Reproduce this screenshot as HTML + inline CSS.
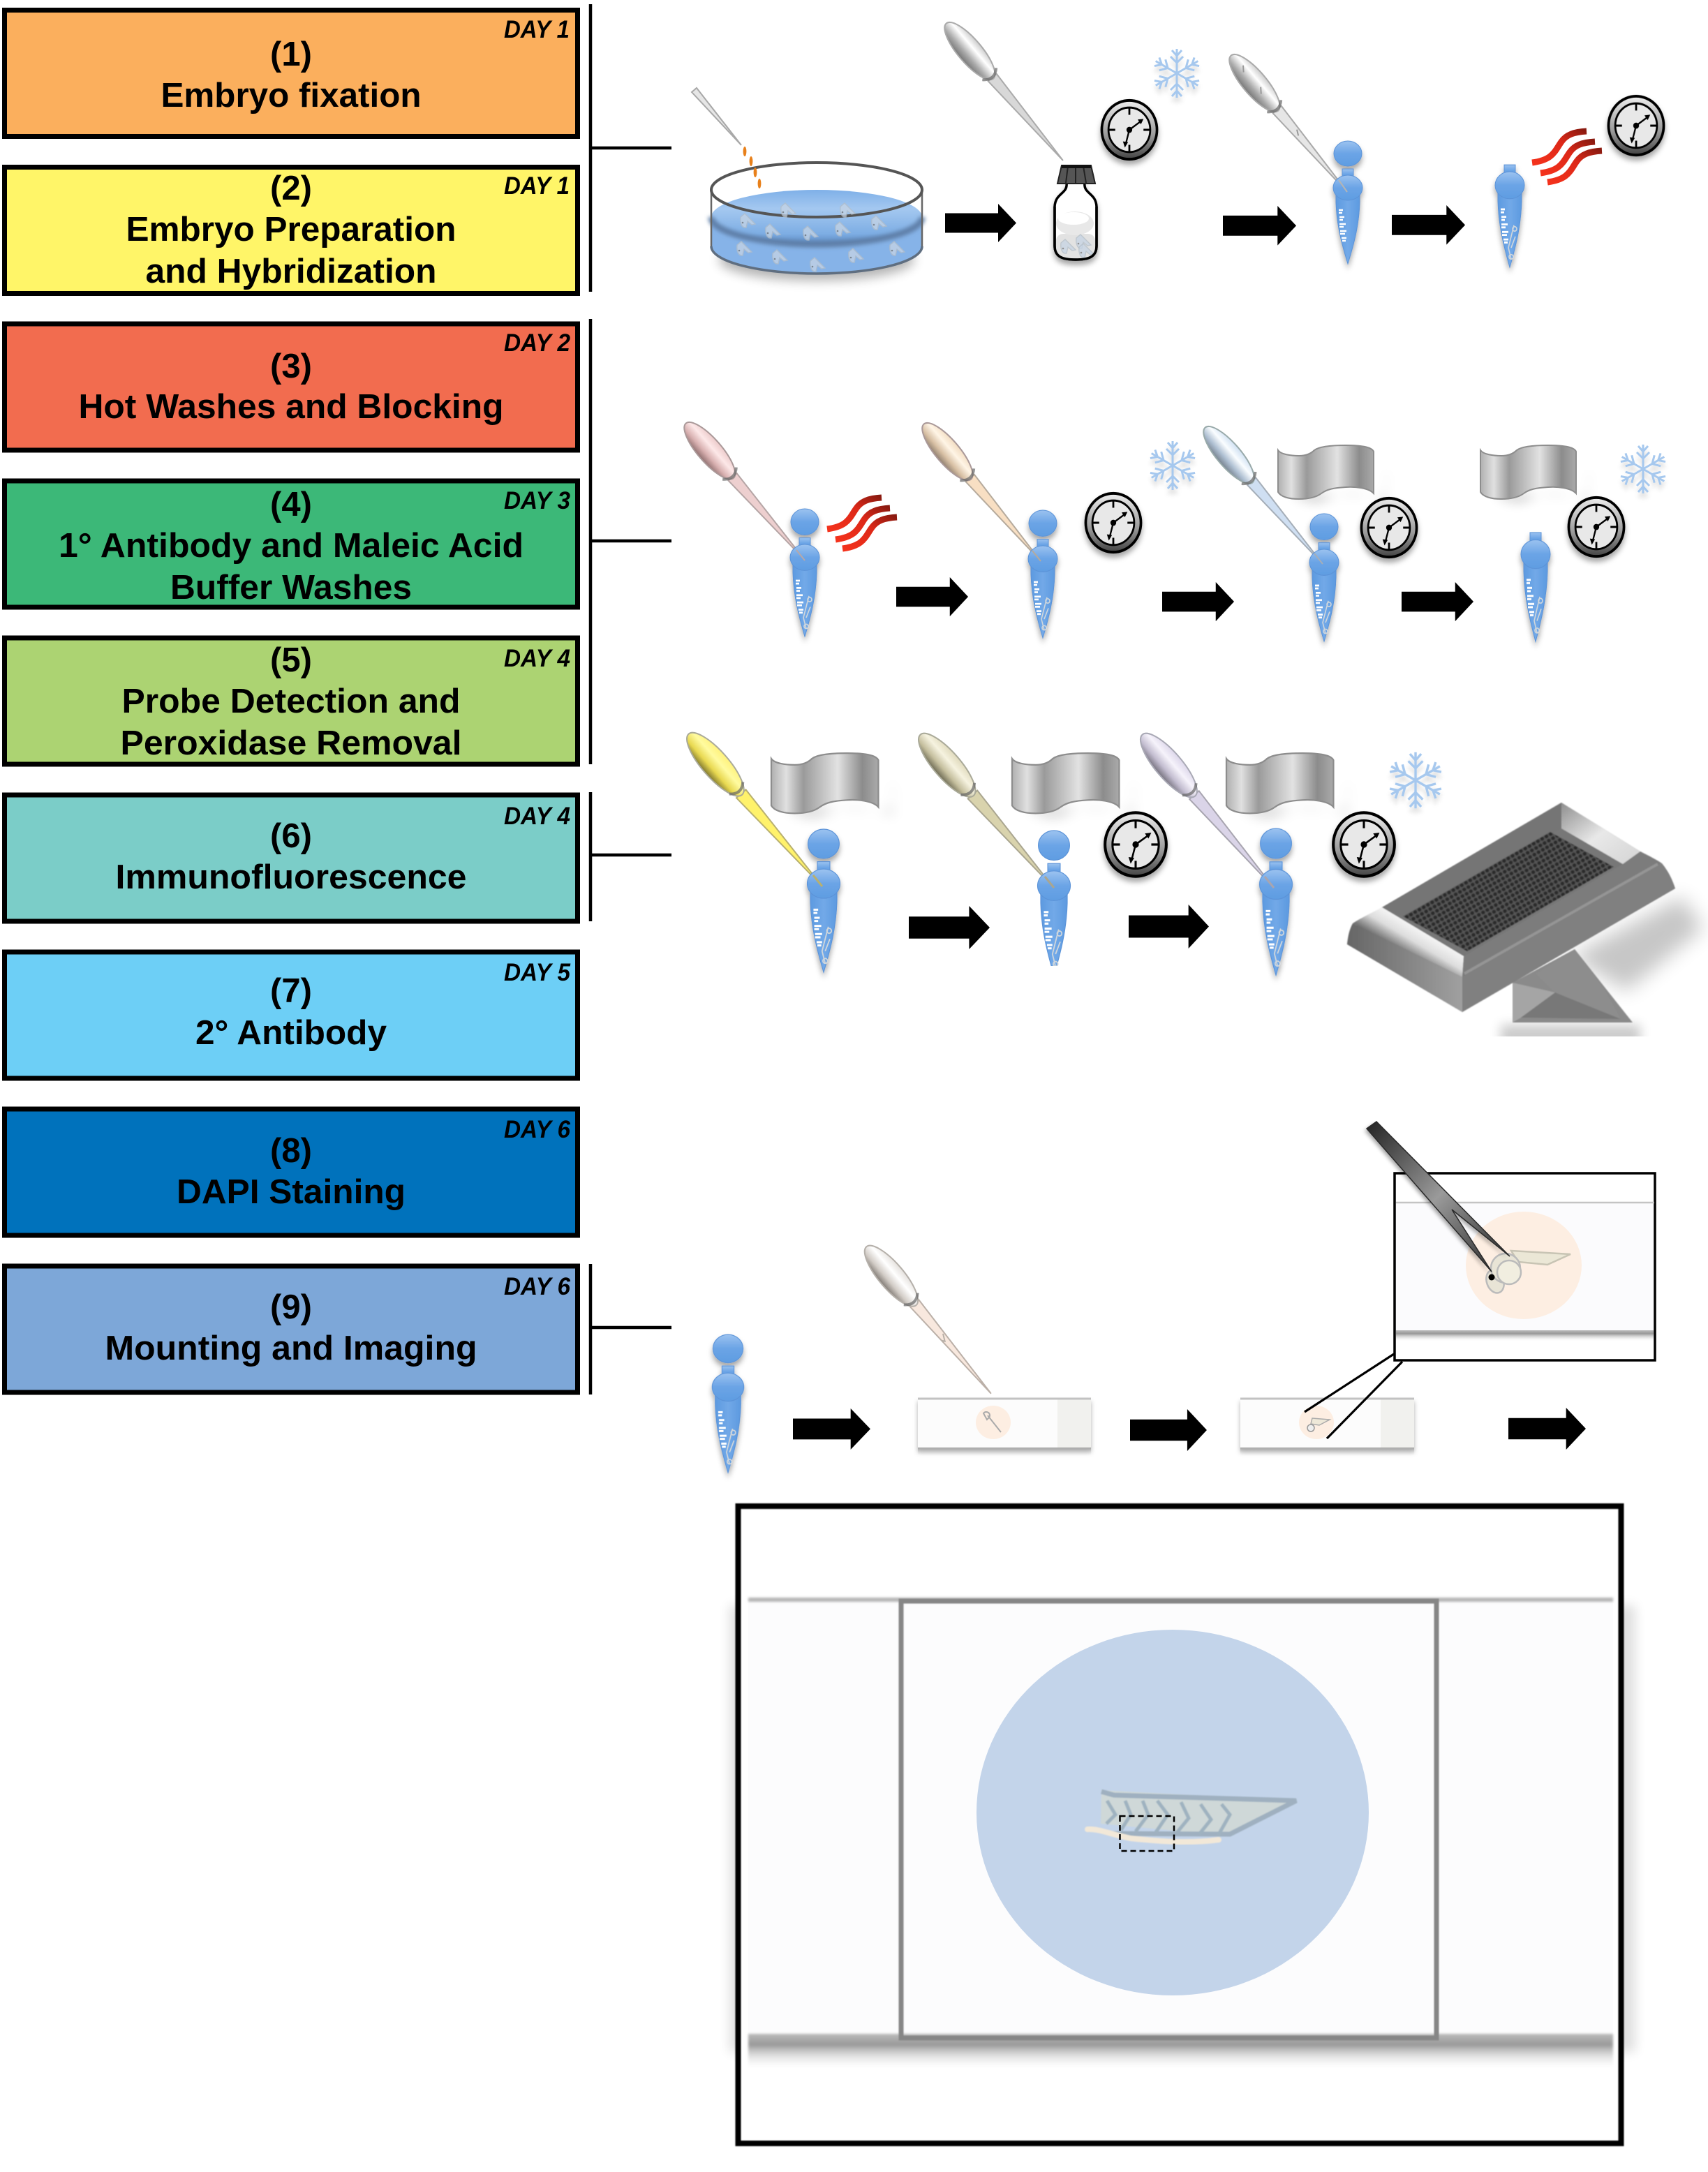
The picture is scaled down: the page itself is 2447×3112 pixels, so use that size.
<!DOCTYPE html>
<html><head><meta charset="utf-8"><title>Whole-mount in situ protocol diagram</title>
<style>html,body{margin:0;padding:0;background:#fff}svg{display:block}
.t{font:bold 49px "Liberation Sans",sans-serif;text-anchor:middle;fill:#000}
.d{font:italic bold 35px "Liberation Sans",sans-serif;fill:#000}</style></head><body>
<svg xmlns="http://www.w3.org/2000/svg" width="2447" height="3112" viewBox="0 0 2447 3112">
<defs>
<filter id="b1" x="-10%" y="-10%" width="120%" height="120%"><feGaussianBlur stdDeviation="1.2"/></filter>
<filter id="b0" x="-5%" y="-5%" width="110%" height="110%"><feGaussianBlur stdDeviation=".7"/></filter>
<filter id="bl" x="-5%" y="-100%" width="110%" height="300%"><feGaussianBlur stdDeviation="1.5"/></filter>
<filter id="b3" x="-30%" y="-30%" width="160%" height="160%"><feGaussianBlur stdDeviation="3"/></filter>
<filter id="b8" x="-30%" y="-50%" width="160%" height="200%"><feGaussianBlur stdDeviation="8"/></filter>
<filter id="b14" x="-50%" y="-80%" width="200%" height="260%"><feGaussianBlur stdDeviation="14"/></filter>
<filter id="ds" x="-30%" y="-30%" width="160%" height="170%"><feDropShadow dx="0" dy="6" stdDeviation="4" flood-color="#000" flood-opacity=".35"/></filter>
<filter id="dsl" x="-30%" y="-30%" width="160%" height="170%"><feDropShadow dx="0" dy="8" stdDeviation="3" flood-color="#000" flood-opacity=".12"/></filter>
<filter id="dss" x="-10%" y="-20%" width="120%" height="160%"><feDropShadow dx="0" dy="5" stdDeviation="3.5" flood-color="#000" flood-opacity=".3"/></filter>
<linearGradient id="tb" x1="0" y1="0" x2="0" y2="1"><stop offset="0" stop-color="#9cc3f0"/><stop offset=".5" stop-color="#6ba4e6"/><stop offset="1" stop-color="#5f9de2"/></linearGradient>
<linearGradient id="tb2" x1="0" y1="0" x2="1" y2="0"><stop offset="0" stop-color="#5d9ae0"/><stop offset=".5" stop-color="#72a9e8"/><stop offset="1" stop-color="#5d9ae0"/></linearGradient>
<linearGradient id="fo" x1="0" y1="0" x2="1" y2="0"><stop offset="0" stop-color="#b0b0b0"/><stop offset=".14" stop-color="#e0e0e0"/><stop offset=".3" stop-color="#9a9a9a"/><stop offset=".36" stop-color="#a8a8a8"/><stop offset=".62" stop-color="#e2e2e2"/><stop offset=".85" stop-color="#8c8c8c"/><stop offset="1" stop-color="#aaa"/></linearGradient>
<linearGradient id="cr" x1="0" y1="0" x2="0" y2="1"><stop offset="0" stop-color="#eee"/><stop offset=".6" stop-color="#999"/><stop offset="1" stop-color="#444"/></linearGradient>
<linearGradient id="ht" x1="0" y1="1" x2="1" y2="0"><stop offset="0" stop-color="#f4321c"/><stop offset=".6" stop-color="#dc2818"/><stop offset="1" stop-color="#8a1a10"/></linearGradient>
<linearGradient id="wa" x1="0" y1="0" x2="0" y2="1"><stop offset="0" stop-color="#7fb0e8"/><stop offset=".35" stop-color="#a4c8f0"/><stop offset=".8" stop-color="#7eaee4"/><stop offset="1" stop-color="#5e8cc4"/></linearGradient>
<linearGradient id="gA" x1="0" y1="0" x2="0" y2="1"><stop offset="0" stop-color="#ccc"/><stop offset=".32" stop-color="#fff"/><stop offset=".7" stop-color="#aaa"/><stop offset="1" stop-color="#777"/></linearGradient>
<linearGradient id="gR" x1="0" y1="0" x2="0" y2="1"><stop offset="0" stop-color="#eccaca"/><stop offset=".35" stop-color="#fde8e8"/><stop offset=".7" stop-color="#d8b0b0"/><stop offset="1" stop-color="#907070"/></linearGradient>
<linearGradient id="gP" x1="0" y1="0" x2="0" y2="1"><stop offset="0" stop-color="#f2dcc0"/><stop offset=".35" stop-color="#fff5e6"/><stop offset=".7" stop-color="#d8c0a4"/><stop offset="1" stop-color="#908070"/></linearGradient>
<linearGradient id="gB" x1="0" y1="0" x2="0" y2="1"><stop offset="0" stop-color="#cfe0f2"/><stop offset=".35" stop-color="#fafdff"/><stop offset=".7" stop-color="#aebfd2"/><stop offset="1" stop-color="#78838f"/></linearGradient>
<linearGradient id="gY" x1="0" y1="0" x2="0" y2="1"><stop offset="0" stop-color="#fff27a"/><stop offset=".35" stop-color="#fffba0"/><stop offset=".7" stop-color="#e8d850"/><stop offset="1" stop-color="#807830"/></linearGradient>
<linearGradient id="gK" x1="0" y1="0" x2="0" y2="1"><stop offset="0" stop-color="#e0dabc"/><stop offset=".35" stop-color="#f6f3e0"/><stop offset=".7" stop-color="#c5bf9e"/><stop offset="1" stop-color="#6d6a54"/></linearGradient>
<linearGradient id="gL" x1="0" y1="0" x2="0" y2="1"><stop offset="0" stop-color="#dcd6ea"/><stop offset=".35" stop-color="#f6f3fb"/><stop offset=".7" stop-color="#c3bdd0"/><stop offset="1" stop-color="#77737f"/></linearGradient>
<linearGradient id="gT" x1="0" y1="0" x2="0" y2="1"><stop offset="0" stop-color="#e4e0dc"/><stop offset=".35" stop-color="#fff"/><stop offset=".7" stop-color="#d2ccc6"/><stop offset="1" stop-color="#807a74"/></linearGradient>
<linearGradient id="bev" gradientUnits="userSpaceOnUse" x1="2030" y1="1320" x2="2005" y2="1362"><stop offset="0" stop-color="#fff"/><stop offset=".55" stop-color="#ddd"/><stop offset="1" stop-color="#6d6d6d"/></linearGradient>
<linearGradient id="bev2" x1="0" y1="0" x2="1" y2="1"><stop offset="0" stop-color="#8f8f8f"/><stop offset=".5" stop-color="#e8e8e8"/><stop offset="1" stop-color="#d4d4d4"/></linearGradient>
<linearGradient id="fc" x1="0" y1="0" x2="1" y2="0"><stop offset="0" stop-color="#666"/><stop offset="1" stop-color="#a0a0a0"/></linearGradient>
<linearGradient id="fp" x1="0" y1="0" x2="1" y2="1"><stop offset="0" stop-color="#222"/><stop offset=".5" stop-color="#9a9a9a"/><stop offset="1" stop-color="#222"/></linearGradient>
<linearGradient id="bd" x1="0" y1="0" x2="0" y2="1"><stop offset="0" stop-color="#999"/><stop offset="1" stop-color="#fff" stop-opacity="0"/></linearGradient>
<linearGradient id="bd2" x1="0" y1="0" x2="0" y2="1"><stop offset="0" stop-color="#bbb"/><stop offset=".3" stop-color="#999"/><stop offset="1" stop-color="#fff" stop-opacity="0"/></linearGradient>
<pattern id="grid" width="7" height="7" patternUnits="userSpaceOnUse" patternTransform="rotate(-30)"><rect width="7" height="7" fill="#555"/><circle cx="3.5" cy="3.5" r="2.8" fill="#2a2a2a"/></pattern>

<polygon id="ar" points="0,13.5 76,13.5 76,0 102,27.5 76,55 76,41.5 0,41.5" fill="#000"/>

<g id="foil"><path d="M0,8C4,14 18,16 30,16C42,16 48,12 52,8C60,2 80,1 97,1C118,1 134,3 137,10V70C130,62 110,60 97,61C80,62 70,64 62,70C54,76 42,78 30,78C16,78 4,75 0,68Z" fill="url(#fo)" stroke="#8d8d8d" stroke-width="2"/></g>
<g id="foilS"><path d="M20,70C40,85 60,85 70,78C90,68 115,68 155,80V35C160,70 150,80 137,74Z" fill="#000" opacity=".2" filter="url(#b8)"/></g>

<g id="clock"><circle r="43" cy="0" fill="url(#cr)" stroke="#000" stroke-width="4"/><circle r="32.5" fill="#e8e8e8" stroke="#000" stroke-width="3"/>
<path d="M0,-32V-22M0,32V22M-32,0H-22M32,0H22" stroke="#000" stroke-width="3"/>
<path d="M0,0L20,-14M0,0L-6,22" stroke="#000" stroke-width="2.5"/><path d="M22,-16L13,-15L18,-8ZM-7,26L-10,17L-2,18Z" fill="#000"/><circle r="4.5" fill="#000"/></g>

<g id="arm" fill="none" stroke="#a6c8ee" stroke-width="3"><path d="M0,0V-35M0,-25L-7,-33M0,-25L7,-33M0,-15L-9,-24M0,-15L9,-24"/></g>
<g id="snow"><use href="#arm"/><use href="#arm" transform="rotate(60)"/><use href="#arm" transform="rotate(120)"/><use href="#arm" transform="rotate(180)"/><use href="#arm" transform="rotate(240)"/><use href="#arm" transform="rotate(300)"/></g>

<g id="heat" fill="none" stroke="url(#ht)" stroke-width="9"><path d="M0,50C30,46 32,34 42,20C49,10 60,6 78,5"/><path d="M12,65C42,61 44,49 54,35C61,25 72,21 90,20"/><path d="M22,78C52,74 54,62 64,48C71,38 82,34 100,33"/></g>

<g id="body"><path d="M-8,40H8V55H-8Z" fill="url(#tb)" stroke="#5b93d8"/><path d="M-17,75V88C-16,122 -8,150 0,176C8,150 16,122 17,88V75Z" fill="url(#tb2)" stroke="#5b93d8"/><ellipse cy="67" rx="21" ry="18" fill="url(#tb)" stroke="#5b93d8"/>
<path d="M-13,99H-7M-13,103H-8M-12,109H-5M-12,113H-7M-12,119H-3M-12,123H-6M-11,129H-2M-11,133H-4M-9,139H-2M-8,143H-3" stroke="#fff" stroke-width="2.6"/></g>
<g id="tube"><use href="#body"/><ellipse cy="18" rx="20" ry="18" fill="url(#tb)" stroke="#5b93d8"/></g>
<g id="emt" fill="none" stroke="#cfd6dc" stroke-width="1.6"><path d="M6,120L-2,150L2,165"/><circle cx="7" cy="125" r="3"/><circle cx="2" cy="162" r="3"/><path d="M8,135L2,150"/></g>

<g id="emb" opacity=".75"><path d="M-10,-4L-4,-9L11,6L6,7L0,2L-2,11C-8,12 -11,5 -10,-4Z" fill="#c6d4e4" stroke="#b4bec8" stroke-width="1.4"/><circle cx="-7" cy="4" r="1.3" fill="#777"/></g>
<path id="jn" d="M93,-13Q106,0 93,13" fill="none" stroke="#666" stroke-width="4" opacity=".7"/>
</defs>

<!-- step boxes -->
<g stroke="#000" stroke-width="7">
<rect x="6.5" y="14.5" width="821" height="181" fill="#FBAF5D"/>
<rect x="6.5" y="239.5" width="821" height="181" fill="#FFF568"/>
<rect x="6.5" y="464" width="821" height="181" fill="#F26C4F"/>
<rect x="6.5" y="689" width="821" height="181" fill="#3CB878"/>
<rect x="6.5" y="914" width="821" height="181" fill="#ACD372"/>
<rect x="6.5" y="1139" width="821" height="181" fill="#7BCDC8"/>
<rect x="6.5" y="1364" width="821" height="181" fill="#6DCFF6"/>
<rect x="6.5" y="1589" width="821" height="181" fill="#0072BC"/>
<rect x="6.5" y="1814" width="821" height="181" fill="#7DA7D8"/>
</g>
<g class="tx">
<text class="t" x="417" y="94">(1)</text><text class="t" x="417" y="153" textLength="373" lengthAdjust="spacingAndGlyphs">Embryo fixation</text>
<text class="t" x="417" y="286">(2)</text><text class="t" x="417" y="345" textLength="473" lengthAdjust="spacingAndGlyphs">Embryo Preparation</text><text class="t" x="417" y="405" textLength="417" lengthAdjust="spacingAndGlyphs">and Hybridization</text>
<text class="t" x="417" y="541">(3)</text><text class="t" x="417" y="599" textLength="609" lengthAdjust="spacingAndGlyphs">Hot Washes and Blocking</text>
<text class="t" x="417" y="739">(4)</text><text class="t" x="417" y="798" textLength="666" lengthAdjust="spacingAndGlyphs">1° Antibody and Maleic Acid</text><text class="t" x="417" y="858" textLength="346" lengthAdjust="spacingAndGlyphs">Buffer Washes</text>
<text class="t" x="417" y="962">(5)</text><text class="t" x="417" y="1021" textLength="485" lengthAdjust="spacingAndGlyphs">Probe Detection and</text><text class="t" x="417" y="1081" textLength="489" lengthAdjust="spacingAndGlyphs">Peroxidase Removal</text>
<text class="t" x="417" y="1214">(6)</text><text class="t" x="417" y="1273" textLength="503" lengthAdjust="spacingAndGlyphs">Immunofluorescence</text>
<text class="t" x="417" y="1436">(7)</text><text class="t" x="417" y="1496" textLength="274" lengthAdjust="spacingAndGlyphs">2° Antibody</text>
<text class="t" x="417" y="1665">(8)</text><text class="t" x="417" y="1724" textLength="328" lengthAdjust="spacingAndGlyphs">DAPI Staining</text>
<text class="t" x="417" y="1889">(9)</text><text class="t" x="417" y="1948" textLength="533" lengthAdjust="spacingAndGlyphs">Mounting and Imaging</text>
<text class="d" x="722" y="54" textLength="94" lengthAdjust="spacingAndGlyphs">DAY 1</text>
<text class="d" x="722" y="278" textLength="94" lengthAdjust="spacingAndGlyphs">DAY 1</text>
<text class="d" x="722" y="503" textLength="95" lengthAdjust="spacingAndGlyphs">DAY 2</text>
<text class="d" x="722" y="729" textLength="95" lengthAdjust="spacingAndGlyphs">DAY 3</text>
<text class="d" x="722" y="955" textLength="95" lengthAdjust="spacingAndGlyphs">DAY 4</text>
<text class="d" x="722" y="1181" textLength="95" lengthAdjust="spacingAndGlyphs">DAY 4</text>
<text class="d" x="722" y="1405" textLength="95" lengthAdjust="spacingAndGlyphs">DAY 5</text>
<text class="d" x="722" y="1630" textLength="95" lengthAdjust="spacingAndGlyphs">DAY 6</text>
<text class="d" x="722" y="1855" textLength="95" lengthAdjust="spacingAndGlyphs">DAY 6</text>
</g>

<!-- brackets -->
<g stroke="#000" stroke-width="4.5" fill="none">
<path d="M846,6V418M846,212H962"/>
<path d="M846,457V1095M846,775H962"/>
<path d="M846,1135V1320M846,1225H962"/>
<path d="M846,1811V1998M846,1902H962"/>
</g>

<!-- row 1: dish -->
<ellipse cx="1170" cy="372" rx="140" ry="30" fill="#000" opacity=".3" filter="url(#b8)"/>
<path d="M1019,311V353A151,39 0 0 0 1321,353V311Z" fill="#86b3e8"/>
<ellipse cx="1170" cy="311" rx="151" ry="39" fill="url(#wa)"/>
<path d="M1019,311A151,39 0 0 0 1321,311" fill="none" stroke="#5f7fa8" stroke-width="9" filter="url(#b3)"/>
<path d="M1019,272V353A151,39 0 0 0 1321,353V272" fill="none" stroke="#666" stroke-width="2.5"/>
<path d="M1019,353A151,39 0 0 0 1321,353" fill="none" stroke="#5f6e80" stroke-width="3.5"/>
<ellipse cx="1170" cy="272" rx="151" ry="39" fill="none" stroke="#555" stroke-width="4"/>
<use href="#emb" x="1129" y="300"/><use href="#emb" x="1214" y="300"/><use href="#emb" x="1071" y="315"/><use href="#emb" x="1107" y="330"/><use href="#emb" x="1161" y="333"/><use href="#emb" x="1207" y="327"/><use href="#emb" x="1259" y="318"/><use href="#emb" x="1066" y="355"/><use href="#emb" x="1117" y="367"/><use href="#emb" x="1171" y="378"/><use href="#emb" x="1226" y="365"/><use href="#emb" x="1285" y="355"/>
<polygon points="991,132 998,126 1062,208" fill="#e6e6e6" stroke="#a8a8a8" stroke-width="2"/>
<g fill="#e8801a"><ellipse cx="1067" cy="217" rx="2.4" ry="7"/><ellipse cx="1076" cy="231" rx="2.4" ry="7"/><ellipse cx="1082" cy="247" rx="2.4" ry="7"/><ellipse cx="1088" cy="263" rx="2.4" ry="7"/></g>

<!-- bottle -->
<g filter="url(#ds)"><path d="M1528,262C1530,278 1512,276 1511,296V352C1511,368 1522,372 1541,372C1560,372 1571,368 1571,352V296C1570,276 1552,278 1554,262Z" fill="#fff" stroke="#000" stroke-width="3.5"/></g>
<rect x="1513" y="335" width="56" height="35" fill="#e2e2e2" rx="10"/>
<ellipse cx="1540" cy="320" rx="27" ry="17" fill="#e8e8e8"/><ellipse cx="1538" cy="313" rx="22" ry="9" fill="#fff"/>
<use href="#emb" x="1552" y="345"/><use href="#emb" x="1530" y="352"/><use href="#emb" x="1556" y="358"/>
<path d="M1511,296V352C1511,368 1522,372 1541,372C1560,372 1571,368 1571,352V296" fill="none" stroke="#000" stroke-width="3.5"/>
<polygon points="1521,237 1563,237 1569,263 1515,263" fill="#555" stroke="#222" stroke-width="2"/>
<path d="M1530,238L1527,262M1541,238V262M1552,238L1556,262" stroke="#222" stroke-width="2"/><rect x="1521" y="236" width="42" height="5" fill="#111"/>

<!-- pipettes -->
<g transform="translate(1357,35) rotate(49.6)"><path d="M100,-8L256,0L100,8Z" fill="#d8d8d8" stroke="#aaa" stroke-width="2"/><ellipse cx="50" cy="0" rx="52" ry="17" fill="url(#gA)" stroke="#aaa" stroke-width="2"/><use href="#jn"/></g>
<g transform="translate(1765,81) rotate(49.6)"><path d="M100,-8L256,0L100,8Z" fill="#e6e6e6" stroke="#aaa" stroke-width="2"/><ellipse cx="50" cy="0" rx="52" ry="17" fill="url(#gA)" stroke="#aaa" stroke-width="2"/><use href="#jn"/><path d="M20,-4l8,6M60,-3l8,6M140,-3l8,4" stroke="#999" stroke-width="2" fill="none"/></g>
<g transform="translate(984,608) rotate(49)"><path d="M100,-8L258,0L100,8Z" fill="#edcfcf" stroke="#b5a5a5" stroke-width="2"/><ellipse cx="50" cy="0" rx="52" ry="17" fill="url(#gR)" stroke="#a99" stroke-width="2"/><use href="#jn"/></g>
<g transform="translate(1325,609) rotate(49.6)"><path d="M100,-8L256,0L100,8Z" fill="#f8dfc3" stroke="#b5aa9c" stroke-width="2"/><ellipse cx="50" cy="0" rx="52" ry="17" fill="url(#gP)" stroke="#a99" stroke-width="2"/><use href="#jn"/></g>
<g transform="translate(1728,614) rotate(49.3)"><path d="M100,-8L256,0L100,8Z" fill="#cfdff2" stroke="#a5aeb8" stroke-width="2"/><ellipse cx="50" cy="0" rx="52" ry="17" fill="url(#gB)" stroke="#9aa" stroke-width="2"/><use href="#jn"/></g>
<g transform="translate(988,1053) rotate(48.8)"><path d="M112,-9L288,0L112,9Z" fill="#fff26b" stroke="#b8b070" stroke-width="2"/><ellipse cx="56" cy="0" rx="58" ry="19" fill="url(#gY)" stroke="#aa9" stroke-width="2"/><use href="#jn" transform="translate(8,0)"/></g>
<g transform="translate(1320,1054) rotate(49)"><path d="M112,-9L289,0L112,9Z" fill="#d9d3ad" stroke="#aaa690" stroke-width="2"/><ellipse cx="56" cy="0" rx="58" ry="19" fill="url(#gK)" stroke="#aa9" stroke-width="2"/><use href="#jn" transform="translate(8,0)"/></g>
<g transform="translate(1638,1054) rotate(49.4)"><path d="M112,-9L287,0L112,9Z" fill="#dad4e8" stroke="#a8a5b0" stroke-width="2"/><ellipse cx="56" cy="0" rx="58" ry="19" fill="url(#gL)" stroke="#a9a9b5" stroke-width="2"/><use href="#jn" transform="translate(8,0)"/></g>
<g transform="translate(1242,1787) rotate(49.7)"><path d="M105,-8L275,0L105,8Z" fill="#f8e8de" stroke="#bbb0a8" stroke-width="2"/><path d="M165,-3l10,5l-4,3" fill="none" stroke="#b8b0a8" stroke-width="2"/><ellipse cx="54" cy="0" rx="55" ry="18" fill="url(#gT)" stroke="#b5b0aa" stroke-width="2"/><use href="#jn" transform="translate(4,0)"/></g>

<!-- tubes -->
<g filter="url(#ds)">
<use href="#tube" transform="translate(1931,202)"/>
<g transform="translate(2163,193) scale(1,1.08)"><use href="#body"/><use href="#emt"/></g>
<g transform="translate(1153,729) scale(1,1.04)"><use href="#tube"/><use href="#emt"/></g>
<g transform="translate(1494,731) scale(1,1.04)"><use href="#tube"/><use href="#emt"/></g>
<g transform="translate(1897,736) scale(1,1.04)"><use href="#tube"/><use href="#emt"/></g>
<g transform="translate(2200,717) scale(1,1.15)"><use href="#body"/><use href="#emt"/></g>
<g transform="translate(1180,1188) scale(1.12,1.165)"><use href="#tube"/><use href="#emt"/></g>
<g transform="translate(1828,1187) scale(1.12,1.195)"><use href="#tube"/><use href="#emt"/></g>
<g transform="translate(1043,1912) scale(1.08,1.125)"><use href="#tube"/><use href="#emt"/></g>
</g>
<clipPath id="cl"><rect x="1460" y="1180" width="100" height="204"/></clipPath>
<g clip-path="url(#cl)"><g transform="translate(1510,1190) scale(1.12,1.18)"><use href="#tube"/><use href="#emt"/></g></g>
<!-- pipette tips drawn over tubes -->
<g stroke-width="2"><path d="M1930,275L1918,258" stroke="#b5b5b5"/><path d="M1153,803L1141,788" stroke="#b8a8a8"/><path d="M1491,804L1479,789" stroke="#b5aa9c"/><path d="M1895,808L1883,793" stroke="#a5aeb8"/><path d="M1178,1270L1165,1254" stroke="#b8b070" stroke-width="3"/><path d="M1510,1272L1497,1256" stroke="#aaa690" stroke-width="3"/><path d="M1825,1272L1812,1256" stroke="#a8a5b0" stroke-width="3"/></g>

<!-- clocks -->
<g filter="url(#ds)">
<use href="#clock" transform="translate(1618,186) scale(.92,.98)"/>
<use href="#clock" transform="translate(2344,180) scale(.92,.98)"/>
<use href="#clock" transform="translate(1595,749) scale(.92,.98)"/>
<use href="#clock" transform="translate(1990,756) scale(.92,.98)"/>
<use href="#clock" transform="translate(2287,755) scale(.92,.98)"/>
<use href="#clock" transform="translate(1627,1210) scale(1.02,1.06)"/>
<use href="#clock" transform="translate(1954,1210) scale(1.02,1.06)"/>
</g>

<!-- snowflakes -->
<g filter="url(#dsl)">
<use href="#snow" transform="translate(1686,105)"/>
<use href="#snow" transform="translate(1680,667)"/>
<use href="#snow" transform="translate(2354,672)"/>
<use href="#snow" transform="translate(2028,1118) scale(1.15)"/>
</g>

<!-- heat -->
<use href="#heat" transform="translate(2195,183)"/>
<use href="#heat" transform="translate(1185,708)"/>

<!-- foil -->
<use href="#foilS" transform="translate(1831,637)"/><use href="#foil" transform="translate(1831,637)"/>
<use href="#foilS" transform="translate(2121,637)"/><use href="#foil" transform="translate(2121,637)"/>
<use href="#foilS" transform="translate(1105,1078) scale(1.12)"/><use href="#foil" transform="translate(1105,1078) scale(1.12)"/>
<use href="#foilS" transform="translate(1450,1078) scale(1.12)"/><use href="#foil" transform="translate(1450,1078) scale(1.12)"/>
<use href="#foilS" transform="translate(1757,1078) scale(1.12)"/><use href="#foil" transform="translate(1757,1078) scale(1.12)"/>

<!-- arrows -->
<use href="#ar" transform="translate(1354,292)"/>
<use href="#ar" transform="translate(1752,295) scale(1.03)"/>
<use href="#ar" transform="translate(1994,294) scale(1.03)"/>
<use href="#ar" transform="translate(1284,827) scale(1.01,1.02)"/>
<use href="#ar" transform="translate(1665,834) scale(1.01,1.02)"/>
<use href="#ar" transform="translate(2008,834) scale(1.01,1.02)"/>
<use href="#ar" transform="translate(1302,1298) scale(1.137,1.127)"/>
<use href="#ar" transform="translate(1617,1296) scale(1.127,1.145)"/>
<use href="#ar" transform="translate(1136,2018) scale(1.088,1.07)"/>
<use href="#ar" transform="translate(1619,2019) scale(1.078,1.09)"/>
<use href="#ar" transform="translate(2161,2017) scale(1.088,1.09)"/>

<!-- scanner -->
<clipPath id="scc"><rect x="1900" y="1130" width="547" height="355"/></clipPath>
<g clip-path="url(#scc)"><path d="M2150,1468H2350V1500H2150Z" fill="#000" opacity=".2" filter="url(#b8)"/><path d="M2250,1370L2410,1285L2440,1330L2330,1420Z" fill="#000" opacity=".22" filter="url(#b14)"/></g>
<g filter="url(#b0)">
<polygon points="2167,1408 2256,1360 2339,1465 2167,1465" fill="#8a8a8a"/>
<polygon points="2167,1408 2228,1422 2179,1458 2167,1465" fill="#a5a5a5"/>
<polygon points="2179,1458 2228,1422 2322,1460" fill="#787878"/>
<polygon points="2228,1422 2200,1395 2256,1360 2300,1420 2322,1460" fill="#8d8d8d"/>
<path d="M2237,1150L2350,1220C2375,1232 2392,1250 2400,1273L2095,1450L1930,1353C1932,1340 1938,1325 1980,1300Z" fill="#777"/>
<polygon points="2237,1150 1980,1300 2010,1313 2237,1187" fill="#757575"/>
<polygon points="2237,1150 2350,1220 2325,1238 2237,1187" fill="url(#bev2)"/>
<path d="M1980,1300L2097,1370L2095,1400L1938,1323C1950,1315 1965,1308 1980,1300Z" fill="url(#bev)"/>
<path d="M1938,1323L2095,1400V1450L1930,1353C1931,1342 1933,1332 1938,1323Z" fill="url(#fc)"/>
<path d="M2097,1370L2325,1238L2350,1220C2362,1226 2372,1231 2381,1237L2095,1400Z" fill="#7c7c7c"/>
<path d="M2098,1395L2375,1238" stroke="#959595" stroke-width="4" fill="none"/>
<path d="M2095,1400L2381,1237C2390,1248 2396,1260 2400,1273L2095,1450Z" fill="#808080"/>
<polygon points="2221,1192 2312,1242 2102,1363 2010,1313" fill="url(#grid)"/>
</g>

<!-- slides -->
<g><rect x="1315" y="2003" width="248" height="73" fill="#fcfcfc" filter="url(#dss)"/><rect x="1515" y="2005" width="48" height="70" fill="#f1f1ee"/>
<path d="M1315,2004H1563" stroke="#c2c2c2" stroke-width="3"/><rect x="1315" y="2074" width="248" height="12" fill="url(#bd)"/>
<ellipse cx="1423" cy="2038" rx="25" ry="24" fill="#fdeee2"/>
<path d="M1415,2028l19,24M1409,2025a5,5 0 1 1 8,6l-3,3z" fill="none" stroke="#aaa" stroke-width="2"/></g>
<g><rect x="1777" y="2003" width="249" height="73" fill="#fcfcfc" filter="url(#dss)"/><rect x="1978" y="2005" width="48" height="70" fill="#f1f1ee"/>
<path d="M1777,2004H2026" stroke="#c2c2c2" stroke-width="3"/><rect x="1777" y="2074" width="249" height="12" fill="url(#bd)"/>
<ellipse cx="1886" cy="2038" rx="25" ry="24" fill="#fdeee2"/>
<path d="M1880,2032L1905,2034L1890,2042L1878,2040Z" fill="#eee8d8" stroke="#aaa" stroke-width="1.5"/><circle cx="1878" cy="2046" r="5" fill="#eee" stroke="#999" stroke-width="1.5"/></g>
<path d="M1869,2023L1997,1940M1901,2061L2009,1951" stroke="#000" stroke-width="3.2" fill="none"/>

<!-- zoom box -->
<rect x="1998" y="1681" width="373" height="268" fill="#fff" stroke="#000" stroke-width="3.5"/>
<rect x="2000" y="1724" width="369" height="188" fill="#fbfbfd"/>
<path d="M2000,1723H2370" stroke="#c4c4c4" stroke-width="2.5"/>
<rect x="2000" y="1906" width="369" height="16" fill="url(#bd2)"/>
<ellipse cx="2183" cy="1813" rx="83" ry="77" fill="#fdeee2"/>
<polygon points="2165,1792 2250,1797 2217,1812 2175,1808" fill="#ebe7d6" stroke="#c8c4b4" stroke-width="2.5"/>
<ellipse cx="2142" cy="1836" rx="12" ry="17" transform="rotate(-20 2142 1836)" fill="#e8e4d6" stroke="#bbb" stroke-width="2.5"/>
<circle cx="2157" cy="1817" r="21" fill="#e8e4d6" stroke="#bbb" stroke-width="2.5"/>
<circle cx="2162" cy="1823" r="17" fill="#f1eee0" stroke="#bbb" stroke-width="2.5"/>
<circle cx="2137" cy="1830" r="4.5" fill="#000"/>
<polygon points="1958,1617 1972,1607 2163,1800 2080,1733 2137,1822" fill="#000" opacity=".35" filter="url(#b3)" transform="translate(-3,3)"/>
<polygon points="1958,1617 1972,1607 2163,1800 2080,1733 2137,1822" fill="url(#fp)" stroke="#2a2a2a" stroke-width="1.5"/>

<!-- large inset -->
<rect x="1045" y="2300" width="1298" height="640" fill="#000" opacity=".12" filter="url(#b8)"/>
<rect x="1058" y="2162" width="1262" height="906" fill="#fff"/>
<rect x="1072" y="2292" width="1239" height="628" fill="#fcfcfd"/>
<rect x="1072" y="2289" width="1239" height="6" fill="#b5b5b5" filter="url(#bl)"/>
<rect x="1072" y="2914" width="1239" height="52" fill="url(#bd2)" filter="url(#bl)"/>
<rect x="1291" y="2294" width="767" height="626" fill="none" stroke="#868686" stroke-width="7" filter="url(#b0)"/>
<ellipse cx="1680" cy="2597" rx="281" ry="262" fill="#C3D4EA"/>
<g filter="url(#b0)">
<polygon points="1578,2565 1857,2580 1757,2630 1577,2613" fill="#cfd8d8"/>
<path d="M1578,2567L1596,2572L1857,2580L1762,2628L1590,2627" fill="none" stroke="#9fb0c0" stroke-width="7"/>
<path d="M1586,2580L1598,2600L1585,2613M1612,2580L1620,2600L1606,2622M1637,2580L1645,2600L1627,2624M1658,2580L1673,2600L1656,2625M1692,2582L1703,2605L1685,2627M1720,2585L1735,2607L1718,2628M1750,2585L1762,2600L1745,2630" fill="none" stroke="#9fb2c0" stroke-width="5"/>
<path d="M1558,2621C1575,2620 1590,2628 1620,2634C1660,2638 1700,2642 1746,2636" fill="none" stroke="#f2e8d8" stroke-width="8" stroke-linecap="round"/>
</g>
<rect x="1604.5" y="2602" width="77.5" height="50" fill="none" stroke="#000" stroke-width="2.5" stroke-dasharray="8 5"/>
<rect x="1057.5" y="2158" width="1265" height="913" fill="none" stroke="#000" stroke-width="8" filter="url(#b0)"/>
</svg>
</body></html>
